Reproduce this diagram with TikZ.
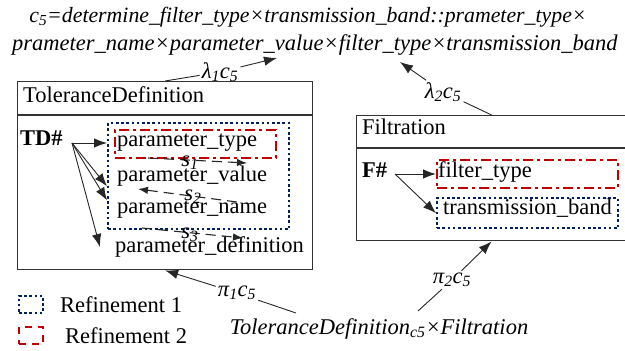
\documentclass[tikz,border=0pt]{standalone}
\usepackage{fontspec}
\setmainfont{Liberation Serif}
\usepackage{tikz}
\usetikzlibrary{arrows.meta,positioning,shapes}
\definecolor{refblue}{RGB}{0,32,96}
\definecolor{refred}{RGB}{192,0,0}
\newcommand{\sub}[1]{\textsubscript{#1}}

\begin{document}
\begin{tikzpicture}[x=1pt, y=-1pt, >={Latex[length=13pt,width=9.5pt]},
    font=\fontsize{22.5}{27}\selectfont,
    box/.style={draw=black!80, line width=1.2pt, inner sep=0pt},
    txt/.style={inner sep=0pt, anchor=mid west},
    lbl/.style={inner sep=2pt},
    conn/.style={draw=black!85, line width=0.9pt},
    ref1/.style={draw=refblue, line width=2.4pt, dash pattern=on 2.6pt off 2.6pt, inner sep=0pt},
    ref2/.style={draw=refred, line width=2.4pt, dash pattern=on 10pt off 4pt on 3pt off 4pt, inner sep=0pt},
    seq/.style={conn, -{Latex[length=10pt,width=7.5pt]}, line width=1.1pt, dash pattern=on 10pt off 6pt}]
    \useasboundingbox (0,0) rectangle (625,351);

    % composite c5
    \node[inner sep=0pt, font=\fontsize{21.8}{27}\selectfont] (c5top) at (308,17) {\textit{c\sub{5}=determine\_filter\_type×transmission\_band::prameter\_type×}};
    \node[inner sep=0pt] (c5bot) at (315,45) {\textit{prameter\_name×parameter\_value×filter\_type×transmission\_band}};
    \coordinate (c5a) at (277,58);
    \coordinate (c5b) at (400,62);

    % left box
    \node[box, minimum width=295pt, minimum height=33pt, anchor=north west] (tdhead) at (17,81) {};
    \node[box, minimum width=295pt, minimum height=154pt, anchor=north] (tdbody) at (tdhead.south) {};
    \node[txt] (tdname) at (23,100) {ToleranceDefinition};
    \node[txt] (tdkey) at (20,143) {\textbf{TD\#}};
    \node[ref1, minimum width=181pt, minimum height=106pt, anchor=north west] (tdref1) at (107,122) {};
    \node[ref2, minimum width=161pt, minimum height=28pt, anchor=north west] (tdref2) at (114,129) {};
    \node[txt] (ptype) at (117,144) {parameter\_type};
    \node[txt] (pvalue) at (117,179) {parameter\_value};
    \node[txt] (pname) at (117,211) {parameter\_name};
    \node[txt] (pdef) at (115,250) {parameter\_definition};
    \coordinate (tdfork) at (72,143);
    \coordinate (pdefin) at (100,247);

    % right box
    \node[box, minimum width=270pt, minimum height=32pt, anchor=north west] (fhead) at (356,115) {};
    \node[box, minimum width=270pt, minimum height=92pt, anchor=north] (fbody) at (fhead.south) {};
    \node[txt] (fname) at (362,132) {Filtration};
    \node[txt] (fkey) at (362,175) {\textbf{F\#}};
    \node[ref2, minimum width=181pt, minimum height=28pt, anchor=north west] (fref2) at (436,159) {};
    \node[ref1, minimum width=181pt, minimum height=30pt, anchor=north west] (fref1) at (436,197) {};
    \node[txt] (ftype) at (438,175) {filter\_type};
    \node[txt] (fband) at (443,212) {transmission\_band};
    \coordinate (ffork) at (395,174);

    % sequence arrows
    \coordinate (s1a) at (148,158);
    \coordinate (s1b) at (247,163);
    \coordinate (s2a) at (237,202);
    \coordinate (s2b) at (138,189);
    \coordinate (s3a) at (142,228);
    \coordinate (s3b) at (243,238);
    \path
    (s1a) edge[seq] (s1b)
    (s2a) edge[seq] (s2b)
    (s3a) edge[seq] (s3b);
    \node[lbl, inner sep=0pt] (s1) at (190,163) {\textit{s\sub{1}}};
    \node[lbl, inner sep=0pt] (s2) at (193,197) {\textit{s\sub{2}}};
    \node[lbl, inner sep=0pt] (s3) at (190,235) {\textit{s\sub{3}}};

    % keys
    \path
    (tdfork) edge[conn, ->] (tdref1.west |- tdfork)
    (tdfork) edge[conn, ->] (tdref1.west |- pvalue.south)
    (tdfork) edge[conn, ->] (tdref1.west |- pname.north)
    (tdfork) edge[conn, ->] (pdefin)
    (ffork) edge[conn, ->] (fref2.west |- ffork)
    (ffork) edge[conn, ->] (fref1.west);

    % projections
    \node[lbl] (lam1) at (220,72) {\textit{λ\sub{1}c\sub{5}}};
    \node[lbl] (lam2) at (443,92) {\textit{λ\sub{2}c\sub{5}}};
    \node[lbl] (pi1) at (237,293) {\textit{π\sub{1}c\sub{5}}};
    \node[lbl] (pi2) at (452,280) {\textit{π\sub{2}c\sub{5}}};
    \node[inner sep=0pt] (prod) at (379,329) {\textit{ToleranceDefinition\sub{c5}×Filtration}};
    \coordinate (p1end) at (296,313);
    \coordinate (p2end) at (418,311);
    \path
    (tdhead.north) edge[conn] (lam1)
    (lam1) edge[conn, ->] (c5a)
    (fhead.north) edge[conn] (lam2)
    (lam2) edge[conn, ->] (c5b)
    (pi1) edge[conn, ->] (tdbody.south)
    (pi1) edge[conn] (p1end)
    (pi2) edge[conn, ->] (fbody.south)
    (pi2) edge[conn] (p2end);

    % legend
    \node[ref1, line width=2pt, minimum width=24pt, minimum height=17pt, anchor=north west] (leg1) at (18,295) {};
    \node[ref2, line width=2pt, dash pattern=on 7pt off 6pt, minimum width=24pt, minimum height=17pt, anchor=north west] (leg2) at (18,326) {};
    \node[right=16pt of leg1, inner sep=0pt] (leg1txt) {Refinement 1};
    \node[right=21pt of leg2, inner sep=0pt] (leg2txt) {Refinement 2};
\end{tikzpicture}
\end{document}
